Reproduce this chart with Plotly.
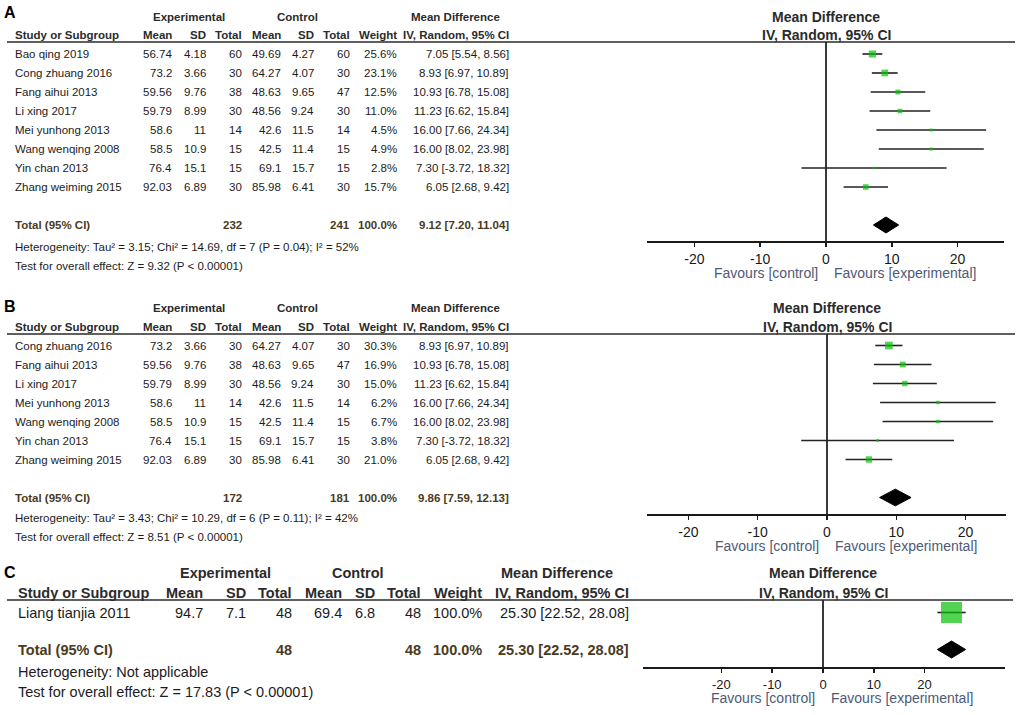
import math
import plotly.graph_objects as go

W, H = 1021, 715

# ------------------------------------------------------------------ data
# Panel A
studies_A = ["Bao qing 2019", "Cong zhuang 2016", "Fang aihui 2013", "Li xing 2017",
             "Mei yunhong 2013", "Wang wenqing 2008", "Yin chan 2013", "Zhang weiming 2015"]
exp_mean_A = [56.74, 73.2, 59.56, 59.79, 58.6, 58.5, 76.4, 92.03]
exp_sd_A = [4.18, 3.66, 9.76, 8.99, 11, 10.9, 15.1, 6.89]
exp_n_A = [60, 30, 38, 30, 14, 15, 15, 30]
ctl_mean_A = [49.69, 64.27, 48.63, 48.56, 42.6, 42.5, 69.1, 85.98]
ctl_sd_A = [4.27, 4.07, 9.65, 9.24, 11.5, 11.4, 15.7, 6.41]
ctl_n_A = [60, 30, 47, 30, 14, 15, 15, 30]
weight_A = [25.6, 23.1, 12.5, 11.0, 4.5, 4.9, 2.8, 15.7]
md_A = [7.05, 8.93, 10.93, 11.23, 16.00, 16.00, 7.30, 6.05]
lo_A = [5.54, 6.97, 6.78, 6.62, 7.66, 8.02, -3.72, 2.68]
hi_A = [8.56, 10.89, 15.08, 15.84, 24.34, 23.98, 18.32, 9.42]
tot_A = [232, 241, 100.0, 9.12, 7.20, 11.04]   # exp n, ctl n, weight, md, lo, hi
het_A = "Heterogeneity: Tau² = 3.15; Chi² = 14.69, df = 7 (P = 0.04); I² = 52%"
test_A = "Test for overall effect: Z = 9.32 (P &lt; 0.00001)"

# Panel B
studies_B = ["Cong zhuang 2016", "Fang aihui 2013", "Li xing 2017", "Mei yunhong 2013",
             "Wang wenqing 2008", "Yin chan 2013", "Zhang weiming 2015"]
exp_mean_B = [73.2, 59.56, 59.79, 58.6, 58.5, 76.4, 92.03]
exp_sd_B = [3.66, 9.76, 8.99, 11, 10.9, 15.1, 6.89]
exp_n_B = [30, 38, 30, 14, 15, 15, 30]
ctl_mean_B = [64.27, 48.63, 48.56, 42.6, 42.5, 69.1, 85.98]
ctl_sd_B = [4.07, 9.65, 9.24, 11.5, 11.4, 15.7, 6.41]
ctl_n_B = [30, 47, 30, 14, 15, 15, 30]
weight_B = [30.3, 16.9, 15.0, 6.2, 6.7, 3.8, 21.0]
md_B = [8.93, 10.93, 11.23, 16.00, 16.00, 7.30, 6.05]
lo_B = [6.97, 6.78, 6.62, 7.66, 8.02, -3.72, 2.68]
hi_B = [10.89, 15.08, 15.84, 24.34, 23.98, 18.32, 9.42]
tot_B = [172, 181, 100.0, 9.86, 7.59, 12.13]
het_B = "Heterogeneity: Tau² = 3.43; Chi² = 10.29, df = 6 (P = 0.11); I² = 42%"
test_B = "Test for overall effect: Z = 8.51 (P &lt; 0.00001)"

# Panel C
studies_C = ["Liang tianjia 2011"]
exp_mean_C = [94.7]
exp_sd_C = [7.1]
exp_n_C = [48]
ctl_mean_C = [69.4]
ctl_sd_C = [6.8]
ctl_n_C = [48]
weight_C = [100.0]
md_C = [25.30]
lo_C = [22.52]
hi_C = [28.08]
tot_C = [48, 48, 100.0, 25.30, 22.52, 28.08]
het_C = "Heterogeneity: Not applicable"
test_C = "Test for overall effect: Z = 17.83 (P &lt; 0.00001)"

tick_vals = [-20, -10, 0, 10, 20]
tick_text = ["-20", "-10", "0", "10", "20"]

col_heads = ["Mean", "SD", "Total", "Mean", "SD", "Total", "Weight", "IV, Random, 95% CI"]

# ------------------------------------------------------------------ styles
SANS = "Liberation Sans, Arial, sans-serif"
C_TXT = "#1c1c1c"
C_HEAD = "#2b2b2b"
C_TOT = "#4a3b1e"
C_FAV = "#4e5a76"
GREEN = "#08c008"

STY = {
    "A": dict(label_y=12.5, h1=17, h2=35, line_y=42, row0=54, step=19, tot_idx=9,
              het_y=247, test_y=266, axis_y=241, fav_y=273, x0=647, x1=1004, zero=826, ppu=6.58,
              sq_k=1.4, dia_h=0.42, cols=[173, 207, 243, 282, 315, 351, 398, 510],
              study_x=14, h1x=[189, 297, 455], font=SANS, fs=11.5, line_x1=1015, tfs=14),
    "B": dict(label_y=306, h1=308, h2=327, line_y=334, row0=345.5, step=19, tot_idx=8,
              het_y=518, test_y=537, axis_y=514, fav_y=546, x0=647, x1=1006, zero=827, ppu=6.93,
              sq_k=1.4, dia_h=0.44, cols=[173, 207, 243, 282, 315, 351, 398, 510],
              study_x=14, h1x=[189, 297, 455], font=SANS, fs=11.5, line_x1=1015, tfs=14),
    "C": dict(label_y=572, h1=573, h2=593, line_y=600, row0=612.5, step=18.5, tot_idx=2,
              het_y=672, test_y=692, axis_y=667, fav_y=698, x0=643, x1=1005, zero=823, ppu=5.08,
              sq_k=2.1, dia_h=0.46, cols=[204, 247, 293, 343, 376, 422, 483, 630],
              study_x=17, h1x=[225, 358, 557], font=SANS, fs=14.5, line_x1=1013, tfs=13),
}

annotations = []
shapes = []


def txt(x, y, s, anchor="left", size=13.5, family=SANS, color=C_TXT, bold=False):
    annotations.append(dict(
        xref="paper", yref="paper", x=x / W, y=1 - y / H, xanchor=anchor, yanchor="middle",
        text=f"<b>{s}</b>" if bold else s, showarrow=False,
        font=dict(family=family, size=size, color=color), borderpad=0))


def g(v):
    return f"{v:g}"


fig = go.Figure()
layout_axes = {}

panels = [
    ("A", studies_A, exp_mean_A, exp_sd_A, exp_n_A, ctl_mean_A, ctl_sd_A, ctl_n_A,
     weight_A, md_A, lo_A, hi_A, tot_A, het_A, test_A),
    ("B", studies_B, exp_mean_B, exp_sd_B, exp_n_B, ctl_mean_B, ctl_sd_B, ctl_n_B,
     weight_B, md_B, lo_B, hi_B, tot_B, het_B, test_B),
    ("C", studies_C, exp_mean_C, exp_sd_C, exp_n_C, ctl_mean_C, ctl_sd_C, ctl_n_C,
     weight_C, md_C, lo_C, hi_C, tot_C, het_C, test_C),
]

for k, (key, studies, em, esd, en, cm, csd, cn, wt, md, lo, hi, tot, het, test) in enumerate(panels):
    s = STY[key]
    fam, fs = s["font"], s["fs"]
    suffix = "" if k == 0 else str(k + 1)
    xa, ya = "x" + suffix, "y" + suffix

    # ---- table text
    txt(3, s["label_y"], key, size=16, family=SANS, color="#000", bold=True)
    for cx, lab in zip(s["h1x"], ["Experimental", "Control", "Mean Difference"]):
        txt(cx, s["h1"], lab, anchor="center", size=fs, family=fam, color=C_HEAD, bold=True)
    txt(s["study_x"], s["h2"], "Study or Subgroup", size=fs, family=fam, color=C_HEAD, bold=True)
    for cx, lab in zip(s["cols"], col_heads):
        txt(cx, s["h2"], lab, anchor="right", size=fs, family=fam, color=C_HEAD, bold=True)

    for i, name in enumerate(studies):
        y = s["row0"] + i * s["step"]
        txt(s["study_x"], y, name, size=fs, family=fam)
        vals = [g(em[i]), g(esd[i]), g(en[i]), g(cm[i]), g(csd[i]), g(cn[i]),
                f"{wt[i]:.1f}%", f"{md[i]:.2f} [{lo[i]:.2f}, {hi[i]:.2f}]"]
        for cx, v in zip(s["cols"], vals):
            txt(cx, y, v, anchor="right", size=fs, family=fam)

    ty = s["row0"] + s["tot_idx"] * s["step"]
    txt(s["study_x"], ty, "Total (95% CI)", size=fs, family=fam, color=C_TOT, bold=True)
    tvals = {2: g(tot[0]), 5: g(tot[1]), 6: f"{tot[2]:.1f}%",
             7: f"{tot[3]:.2f} [{tot[4]:.2f}, {tot[5]:.2f}]"}
    for ci, v in tvals.items():
        txt(s["cols"][ci], ty, v, anchor="right", size=fs, family=fam, color=C_TOT, bold=True)
    txt(s["study_x"], s["het_y"], het, size=fs, family=fam)
    txt(s["study_x"], s["test_y"], test, size=fs, family=fam)

    # header rule
    shapes.append(dict(type="line", xref="paper", yref="paper", x0=7 / W, x1=s["line_x1"] / W,
                       y0=1 - s["line_y"] / H, y1=1 - s["line_y"] / H,
                       line=dict(color="#2a2a2a", width=1.5)))

    # ---- forest plot
    rows = list(range(len(studies)))
    ex, ey = [], []
    for i in rows:
        ex += [lo[i], hi[i], None]
        ey += [i, i, None]
    fig.add_trace(go.Scatter(x=ex, y=ey, mode="lines", line=dict(color="#222", width=1.6),
                             xaxis=xa, yaxis=ya, hoverinfo="skip"))
    fig.add_trace(go.Scatter(x=md, y=rows, mode="markers",
                             marker=dict(symbol="square", color=GREEN,
                                         size=[s["sq_k"] * math.sqrt(w) for w in wt],
                                         line=dict(width=0)),
                             xaxis=xa, yaxis=ya, hoverinfo="skip"))
    t = s["tot_idx"]
    h = s["dia_h"]
    fig.add_trace(go.Scatter(x=[tot[4], tot[3], tot[5], tot[3], tot[4]],
                             y=[t, t - h, t, t + h, t], mode="lines", fill="toself",
                             fillcolor="#000", line=dict(color="#000", width=1),
                             xaxis=xa, yaxis=ya, hoverinfo="skip"))

    def idx(p):
        return (p - s["row0"]) / s["step"]

    xr = [(s["x0"] - s["zero"]) / s["ppu"], (s["x1"] - s["zero"]) / s["ppu"]]
    layout_axes["xaxis" + suffix] = dict(
        domain=[s["x0"] / W, s["x1"] / W], range=xr, anchor=ya, showgrid=False,
        zeroline=True, zerolinecolor="#3a3a3a", zerolinewidth=1.3,
        showline=True, linecolor="#1a1a1a", linewidth=2, ticks="outside", ticklen=4,
        tickwidth=1.5, tickcolor="#1a1a1a", tickvals=tick_vals, ticktext=tick_text,
        tickfont=dict(family=SANS, size=s["tfs"], color="#1a1a1a"), fixedrange=True)
    layout_axes["yaxis" + suffix] = dict(
        domain=[1 - s["axis_y"] / H, 1 - s["line_y"] / H],
        range=[idx(s["axis_y"]), idx(s["line_y"])], visible=False, anchor=xa,
        fixedrange=True)

    # plot-side headers and favours labels
    annotations.append(dict(xref=xa, yref="paper", x=0, y=1 - s["h1"] / H, xanchor="center",
                            yanchor="middle", showarrow=False, text="<b>Mean Difference</b>",
                            font=dict(family=SANS, size=14, color=C_HEAD)))
    annotations.append(dict(xref=xa, yref="paper", x=0, y=1 - s["h2"] / H, xanchor="center",
                            yanchor="middle", showarrow=False, text="<b>IV, Random, 95% CI</b>",
                            font=dict(family=SANS, size=14, color=C_HEAD)))
    annotations.append(dict(xref=xa, yref="paper", x=0, y=1 - s["fav_y"] / H, xanchor="right",
                            xshift=-6, yanchor="middle", showarrow=False,
                            text="Favours [control]",
                            font=dict(family=SANS, size=14, color=C_FAV)))
    annotations.append(dict(xref=xa, yref="paper", x=0, y=1 - s["fav_y"] / H, xanchor="left",
                            xshift=6, yanchor="middle", showarrow=False,
                            text="Favours [experimental]",
                            font=dict(family=SANS, size=14, color=C_FAV)))

fig.update_layout(
    width=W, height=H, autosize=False, margin=dict(l=0, r=0, t=0, b=0),
    paper_bgcolor="white", plot_bgcolor="white", showlegend=False,
    annotations=annotations, shapes=shapes, **layout_axes)

fig.write_html("out.html", config={"displayModeBar": False, "staticPlot": True},
               post_script="document.body.style.margin='0';document.body.style.overflow='hidden';")
